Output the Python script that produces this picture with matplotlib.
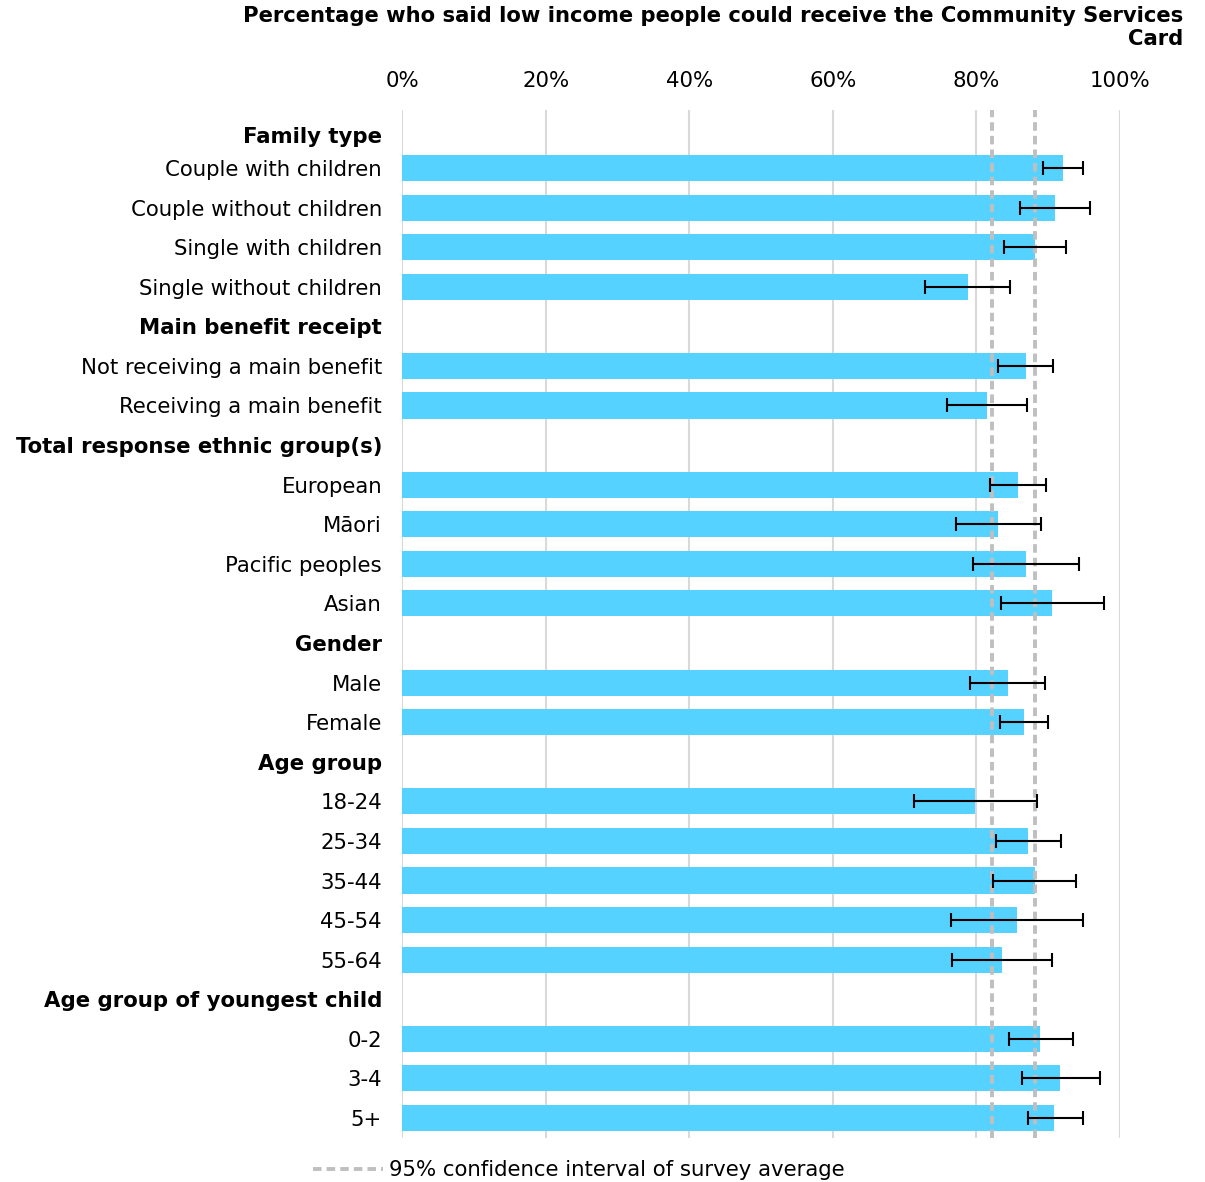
import numpy as np
import matplotlib
matplotlib.use("Agg")
import matplotlib.pyplot as plt
from matplotlib.lines import Line2D

# rows in display order; None marks a group heading
labels = [
    "Family type", "Couple with children", "Couple without children",
    "Single with children", "Single without children",
    "Main benefit receipt", "Not receiving a main benefit", "Receiving a main benefit",
    "Total response ethnic group(s)", "European", "Māori", "Pacific peoples", "Asian",
    "Gender", "Male", "Female",
    "Age group", "18-24", "25-34", "35-44", "45-54", "55-64",
    "Age group of youngest child", "0-2", "3-4", "5+",
]
headers = ["Family type", "Main benefit receipt", "Total response ethnic group(s)",
           "Gender", "Age group", "Age group of youngest child"]

values = [None, 92.1, 90.9, 88.2, 78.8,
          None, 86.9, 81.5,
          None, 85.8, 83.0, 86.9, 90.5,
          None, 84.4, 86.6,
          None, 79.8, 87.2, 88.2, 85.7, 83.6,
          None, 88.9, 91.6, 90.8]
ci_low = [None, 89.3, 86.1, 83.8, 72.8,
          None, 83.0, 75.9,
          None, 81.9, 77.2, 79.5, 83.4,
          None, 79.1, 83.3,
          None, 71.3, 82.7, 82.3, 76.5, 76.6,
          None, 84.5, 86.4, 87.2]
ci_high = [None, 94.8, 95.8, 92.5, 84.7,
           None, 90.7, 87.0,
           None, 89.7, 89.0, 94.3, 97.8,
           None, 89.6, 90.0,
           None, 88.4, 91.8, 93.9, 94.8, 90.5,
           None, 93.5, 97.2, 94.8]

survey_ci = [82.2, 88.2]

bar_color = "#55D2FF"
dash_color = "#BFBFBF"
dash_style = (0, (2.2, 1.3))
fs = 15.3

plt.rcParams["font.family"] = "DejaVu Sans"

fig = plt.figure(figsize=(12.05, 11.82), dpi=100)
ax = fig.add_axes([402 / 1205, 1 - 1138 / 1182, (1120 - 402) / 1205, (1138 - 110) / 1182])

pos = np.arange(len(labels), dtype=float)
pos[0] = 0.17  # first heading sits a little closer to its group
idx = [i for i, v in enumerate(values) if v is not None]
vals = np.array([values[i] for i in idx])
lo = np.array([ci_low[i] for i in idx])
hi = np.array([ci_high[i] for i in idx])

ax.barh(pos[idx], vals, height=0.66, color=bar_color, zorder=2)
ax.errorbar((lo + hi) / 2, pos[idx], xerr=(hi - lo) / 2, fmt="none",
            ecolor="black", elinewidth=1.5, capsize=5, capthick=1.5, zorder=4)

for x in survey_ci:
    ax.axvline(x, color=dash_color, linestyle=dash_style, linewidth=2.8, zorder=3)

ax.set_xlim(0, 100)
ax.set_ylim(25.505, -0.465)
ax.set_xticks(np.arange(0, 101, 20))
ax.set_xticklabels([f"{t}%" for t in range(0, 101, 20)])
ax.xaxis.tick_top()
ax.grid(axis="x", color="#D9D9D9", linewidth=1.5, zorder=0)
ax.set_axisbelow(True)
ax.tick_params(axis="x", length=0, pad=14, labelsize=fs)
ax.tick_params(axis="y", length=0, pad=14.4, labelsize=fs)

ax.set_yticks(pos)
ax.set_yticklabels(labels)
for t in ax.get_yticklabels():
    if t.get_text() in headers:
        t.set_fontweight("bold")

for s in ax.spines.values():
    s.set_visible(False)

fig.text(1183 / 1205, 1 - 6 / 1182,
         "Percentage who said low income people could receive the Community Services\nCard",
         ha="right", va="top", fontsize=15.2, fontweight="bold", linespacing=1.2)

handle = Line2D([], [], color=dash_color, linestyle=dash_style, linewidth=2.8)
fig.legend([handle], ["95% confidence interval of survey average"],
           loc="center left", bbox_to_anchor=(313 / 1205, 1 - 1170 / 1182),
           frameon=False, fontsize=fs, handlelength=3.3, handletextpad=0.28,
           borderaxespad=0, borderpad=0)

fig.savefig("out.png", dpi=100)
